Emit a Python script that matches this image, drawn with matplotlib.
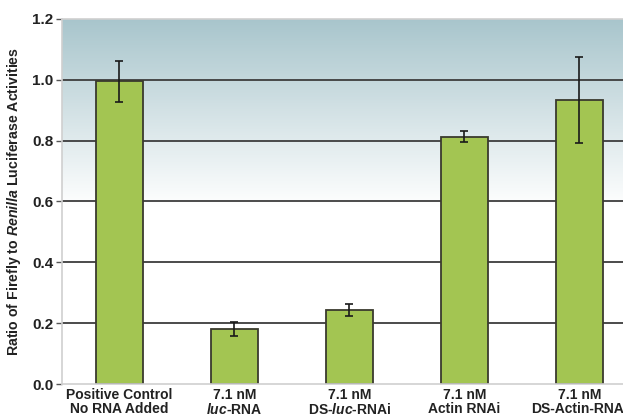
import numpy as np
import matplotlib.pyplot as plt
from matplotlib.colors import LinearSegmentedColormap

plt.rcParams["font.family"] = ["Liberation Sans", "DejaVu Sans"]
plt.rcParams["mathtext.fontset"] = "custom"
plt.rcParams["mathtext.rm"] = "Liberation Sans:bold"
plt.rcParams["mathtext.it"] = "Liberation Sans:italic:bold"
plt.rcParams["mathtext.bf"] = "Liberation Sans:bold"

# luciferase ratio data
labels = ["Positive Control\nNo RNA Added",
          "7.1 nM\n$\\mathit{luc}$-RNA",
          "7.1 nM\nDS-$\\mathit{luc}$-RNAi",
          "7.1 nM\nActin RNAi",
          "7.1 nM\nDS-Actin-RNAi"]
ratio = [0.995, 0.181, 0.243, 0.813, 0.934]
err = [0.068, 0.023, 0.021, 0.018, 0.141]

fig = plt.figure(figsize=(6.23, 4.2), dpi=100)
ax = fig.add_axes([0.0995, 0.0857, 0.9005, 0.8691])

x = np.arange(len(labels))
ax.set_xlim(-0.5, 4.38)
ax.set_ylim(0, 1.2)

# background fade: white up to ~0.58, blue-grey at the top
cmap = LinearSegmentedColormap.from_list("bg", ["#ffffff", "#a8c5cc"])
grad = np.linspace(0, 1.2, 512).reshape(-1, 1)
grad = np.clip((grad - 0.58) / 0.62, 0, 1)
ax.imshow(grad, extent=[-0.5, 4.38, 0, 1.2], origin="lower", aspect="auto",
          cmap=cmap, vmin=0, vmax=1, zorder=0)

for yv in [0.2, 0.4, 0.6, 0.8, 1.0]:
    ax.axhline(yv, color="#3d3d3d", lw=1.3, zorder=1)

ax.bar(x, ratio, width=0.41, color="#a3c552", edgecolor="#3a3a2e", lw=1.3, zorder=2)
ax.errorbar(x, ratio, yerr=err, fmt="none", ecolor="#1a1a1a", elinewidth=1.2,
            capsize=3, capthick=1.2, zorder=3)

ax.set_yticks([0.0, 0.2, 0.4, 0.6, 0.8, 1.0, 1.2])
ax.set_yticklabels(["0.0", "0.2", "0.4", "0.6", "0.8", "1.0", "1.2"],
                   fontsize=11, fontweight="bold", color="#222222")
ax.set_xticks(x)
ax.set_xticklabels(labels, fontsize=10, fontweight="bold", color="#222222",
                   linespacing=0.95)
ax.tick_params(axis="x", length=0, pad=3)
ax.tick_params(axis="y", length=4, width=1, color="#555555", pad=2)

ax.set_ylabel("Ratio of Firefly to $\\mathit{Renilla}$ Luciferase Activities",
              fontsize=10.2, fontweight="bold", color="#222222", labelpad=7)

for side in ["left", "top", "bottom", "right"]:
    ax.spines[side].set_color("#cfcfcf")
    ax.spines[side].set_linewidth(1.2)
ax.spines["right"].set_visible(False)

fig.savefig("out.png", dpi=100)
